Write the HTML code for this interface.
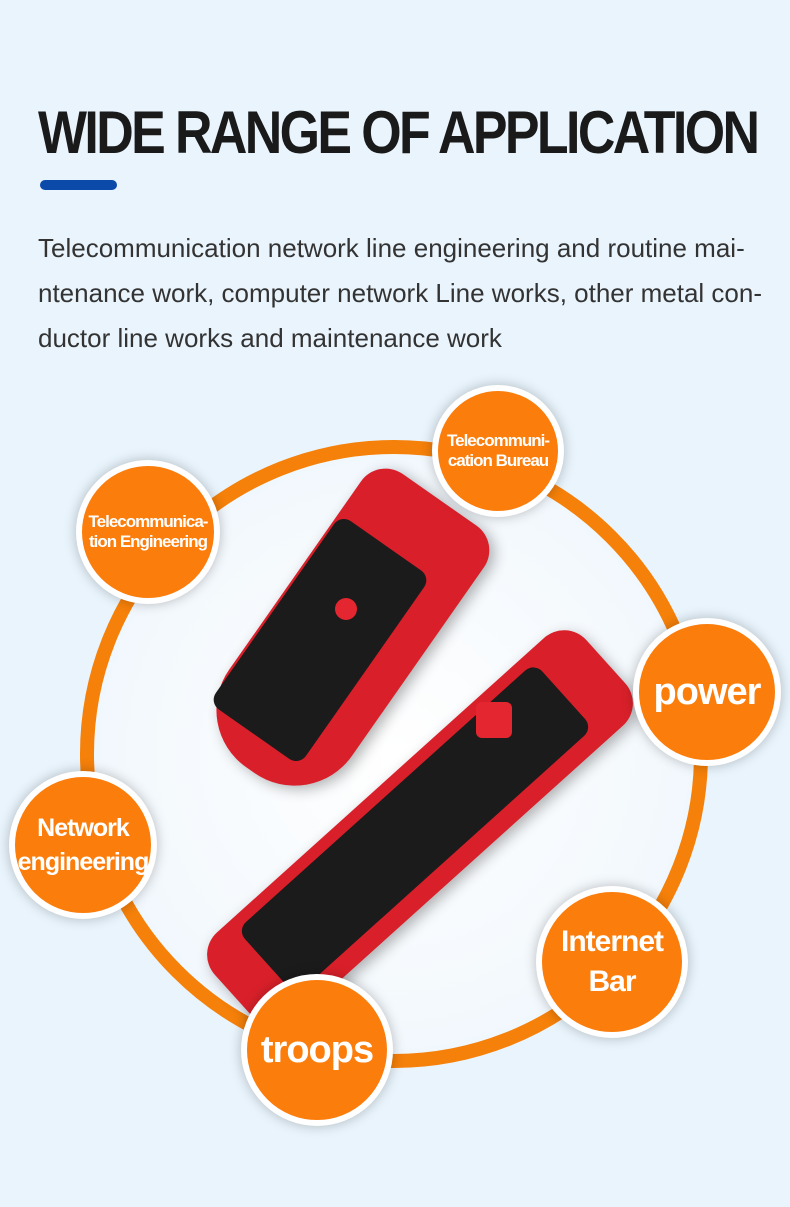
<!DOCTYPE html>
<html><head><meta charset="utf-8"><style>
body{margin:0;width:790px;height:1207px;overflow:hidden;background:#e9f4fc;font-family:"Liberation Sans",sans-serif;position:relative}
h1{position:absolute;left:38px;top:98px;margin:0;font-size:60px;font-weight:bold;color:#1a1a1a;letter-spacing:-3px;transform:scaleX(0.865);transform-origin:left;white-space:nowrap}
.bar{position:absolute;left:40px;top:180px;width:77px;height:10px;border-radius:5px;background:#0b4aa8}
p{position:absolute;left:38px;top:226px;margin:0;font-size:26px;line-height:45px;color:#333;white-space:nowrap}
.ring{position:absolute;left:80px;top:440px;width:628px;height:628px;border-radius:50%;border:14px solid #f5800a;box-sizing:border-box;background:radial-gradient(circle,#fff 0%,#f4f9fd 60%,#e9f4fc 100%)}
.c{position:absolute;border-radius:50%;background:#fb7d0c;border:6px solid #fff;box-shadow:0 0 12px rgba(0,0,0,.25);display:flex;align-items:center;justify-content:center;text-align:center;color:#fff;font-weight:bold;box-sizing:border-box;letter-spacing:-1px}
.dev{position:absolute;background:#d9202a;border-radius:40px;box-shadow:0 6px 14px rgba(0,0,0,.3)}
.pan{position:absolute;background:#1b1b1b;border-radius:12px}
</style></head><body>
<h1>WIDE RANGE OF APPLICATION</h1>
<div class="bar"></div>
<p>Telecommunication network line engineering and routine mai-<br>ntenance work, computer network Line works, other metal con-<br>ductor line works and maintenance work</p>
<div class="ring"></div>
<div class="dev" style="left:180px;top:560px;width:330px;height:150px;transform:rotate(-55deg);border-radius:70px 30px 30px 70px"></div>
<div class="pan" style="left:205px;top:585px;width:230px;height:110px;transform:rotate(-55deg)"></div>
<div class="dev" style="left:170px;top:770px;width:500px;height:118px;transform:rotate(-42deg);border-radius:30px"></div>
<div class="pan" style="left:215px;top:785px;width:400px;height:88px;transform:rotate(-42deg)"></div>
<div style="position:absolute;left:476px;top:702px;width:36px;height:36px;background:#e32630;border-radius:6px"></div>
<div style="position:absolute;left:335px;top:598px;width:22px;height:22px;background:#e32630;border-radius:50%"></div>
<div class="c" style="left:432px;top:385px;width:132px;height:132px;font-size:17px">Telecommuni-<br>cation Bureau</div>
<div class="c" style="left:76px;top:460px;width:144px;height:144px;font-size:17px">Telecommunica-<br>tion Engineering</div>
<div class="c" style="left:633px;top:618px;width:148px;height:148px;font-size:38px">power</div>
<div class="c" style="left:9px;top:771px;width:148px;height:148px;font-size:25px;line-height:34px">Network<br>engineering</div>
<div class="c" style="left:536px;top:886px;width:152px;height:152px;font-size:30px;line-height:40px">Internet<br>Bar</div>
<div class="c" style="left:241px;top:974px;width:152px;height:152px;font-size:38px">troops</div>
</body></html>
